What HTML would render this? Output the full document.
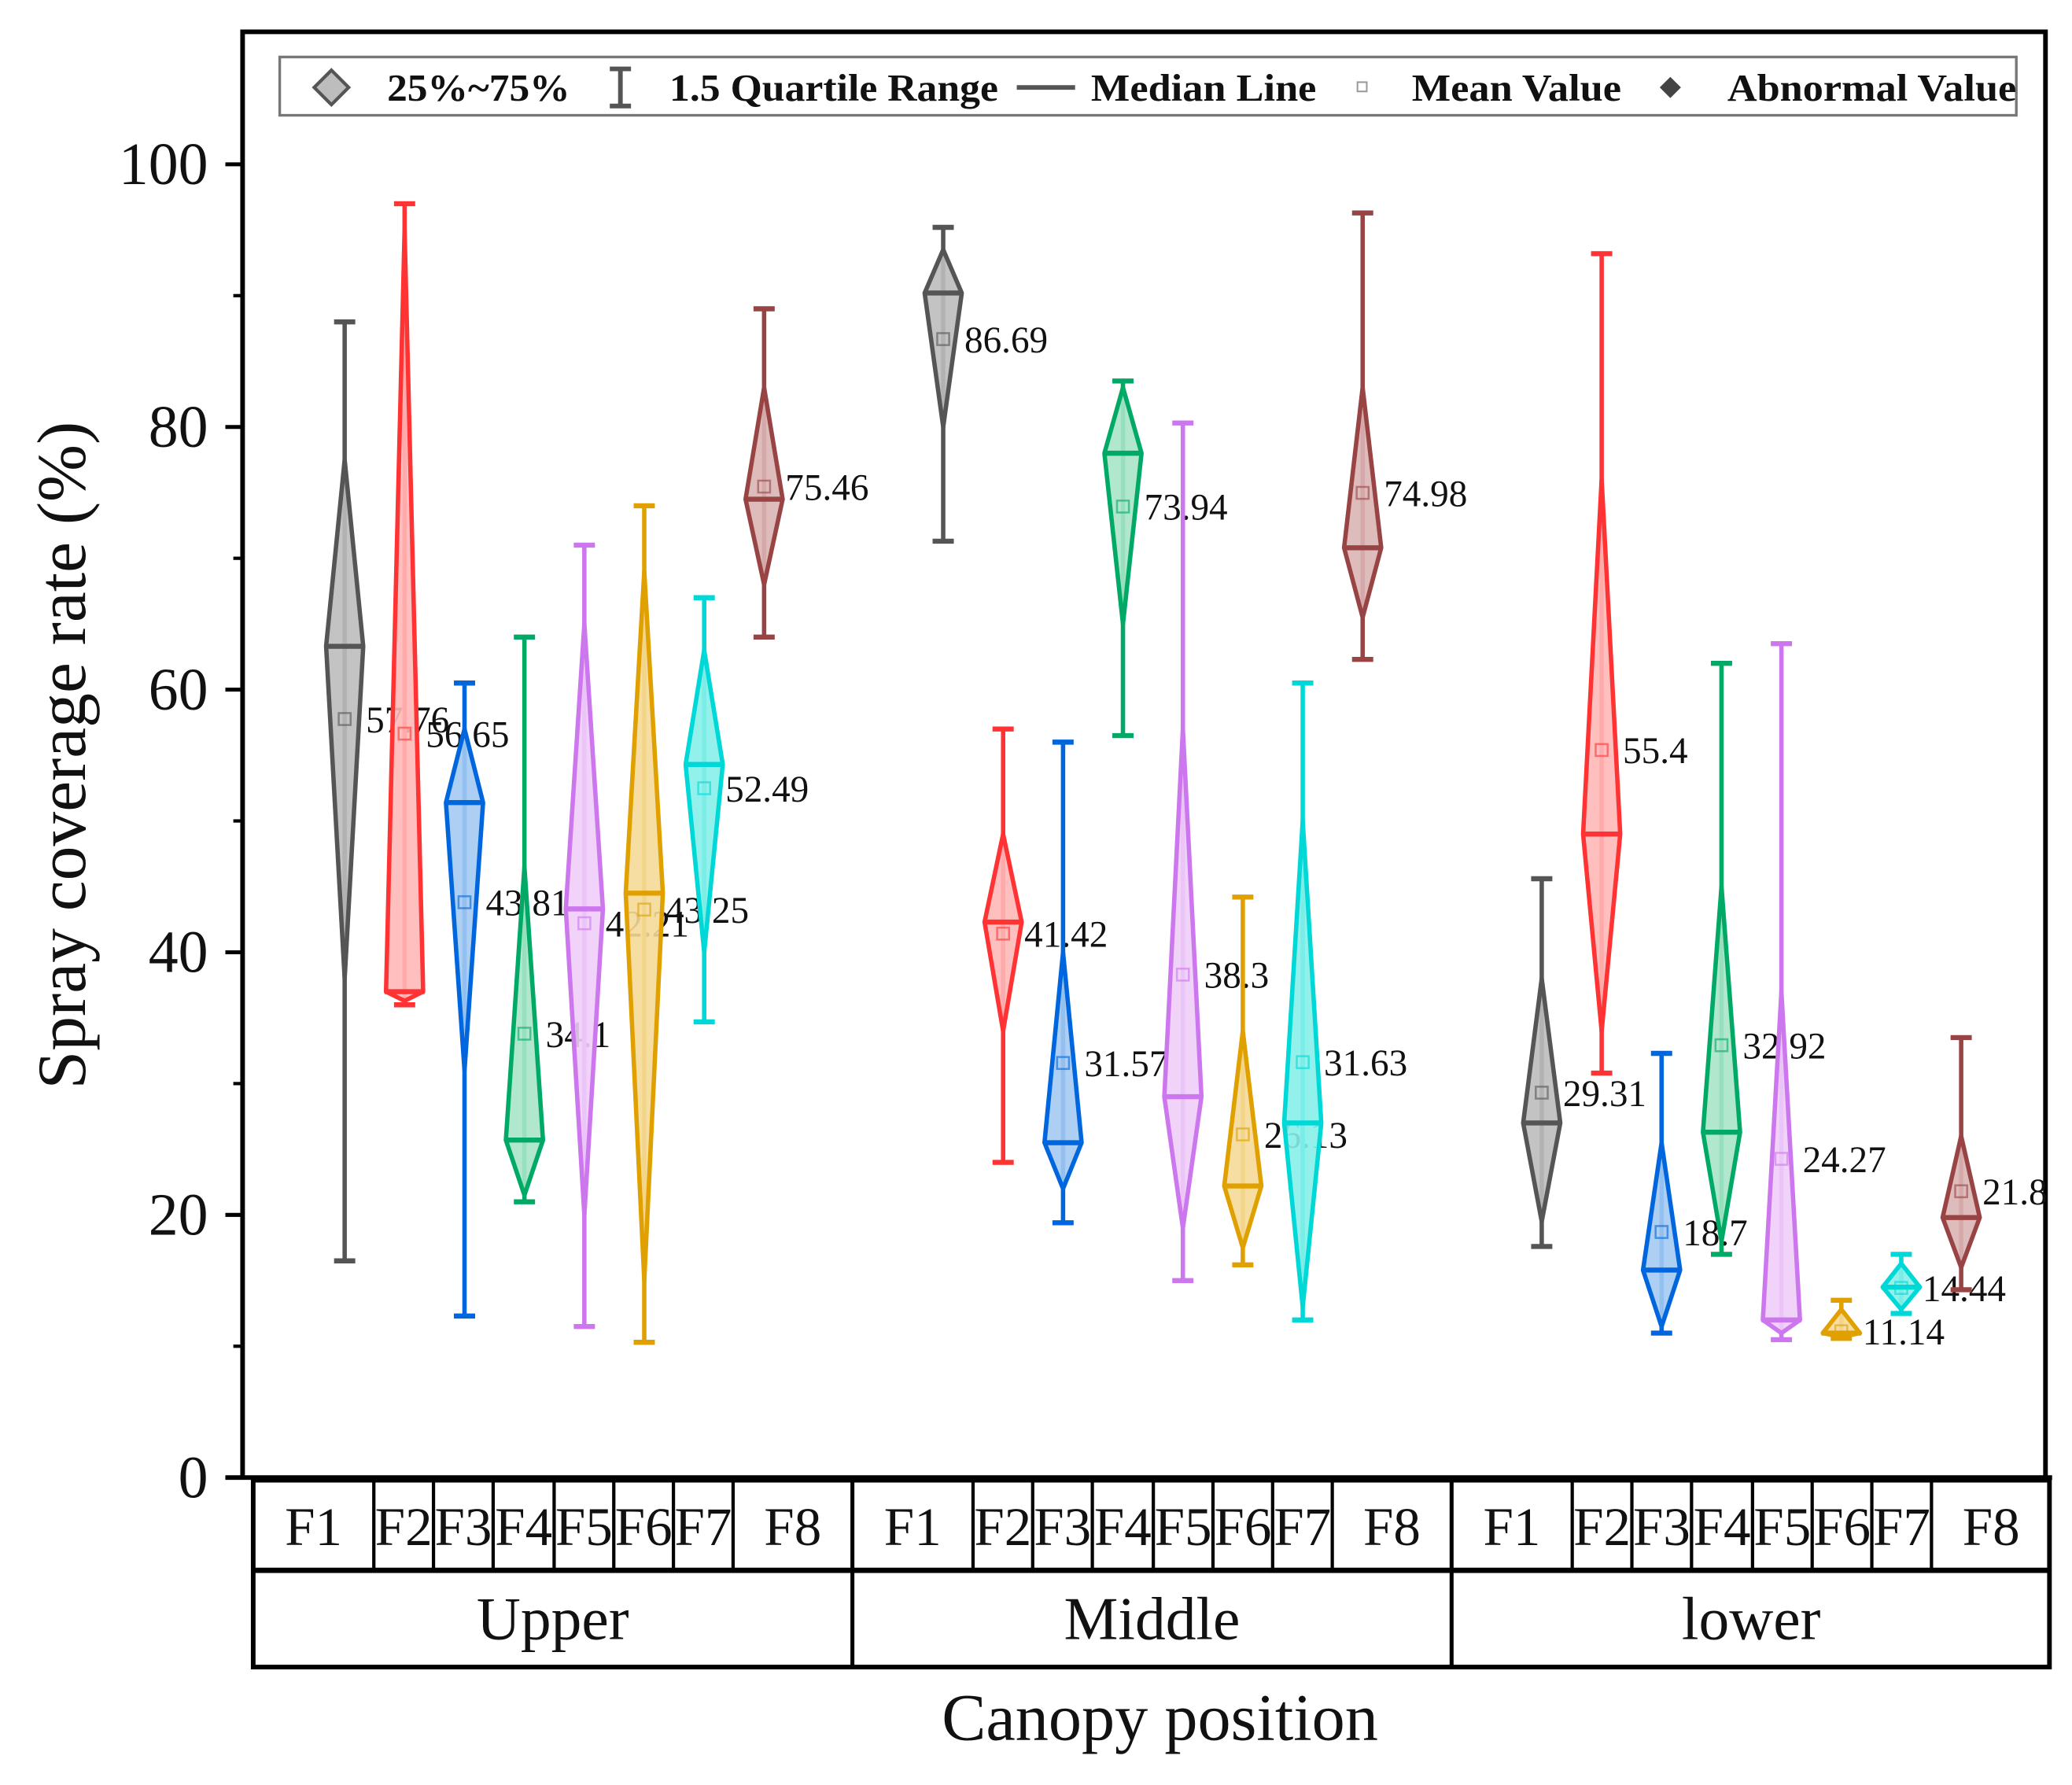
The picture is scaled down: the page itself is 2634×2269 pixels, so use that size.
<!DOCTYPE html>
<html><head><meta charset="utf-8"><style>
html,body{margin:0;padding:0;background:#fff;}
svg{display:block;}
text{font-family:"Liberation Serif",serif;fill:#111;}
</style></head><body>
<svg id="chart" xmlns="http://www.w3.org/2000/svg" width="2634" height="2269" viewBox="0 0 1563 1347" preserveAspectRatio="none">
<rect x="0" y="0" width="1563" height="1347" fill="#fff"/>
<g id="plot"></g>
</svg>
<script>
const groups = ["Upper","Middle","lower"];
const factors = ["F1","F2","F3","F4","F5","F6","F7","F8"];
const whiskerLo = [16.5,36,12.3,21,11.5,10.3,34.7,64, 71.3,24,19.4,56.5,15,16.2,12,62.3, 17.6,30.8,11,17,10.5,10.6,12.5,14.3];
const whiskerHi = [88,97,60.5,64,71,74,67,89, 95.2,57,56,83.5,80.3,44.2,60.5,96.3, 45.6,93.2,32.3,62,63.5,13.5,17,33.5];
const q1 = [38,36.3,31,21.5,20,15,40,68, 80,34,22,65,19,17.5,13,65.5, 19.5,34,11.5,18,11,10.7,12.8,16];
const q3 = [77.5,95,57,46.5,65,69,63,83, 93.5,49,40,83,57,34,50,83, 38,76,25.5,45,37,12.8,16.3,26];
const median = [63.3,37,51.4,25.7,43.3,44.5,54.3,74.5, 90.2,42.3,25.5,78,29,22.2,27,70.8, 27,49,15.8,26.3,12,11,14.5,19.8];
const meanVals = [57.76,56.65,43.81,33.8,42.21,43.25,52.49,75.46, 86.69,41.42,31.57,73.94,38.3,26.13,31.63,74.98, 29.31,55.4,18.7,32.92,24.27,11.14,14.44,21.8];
const meanLabels = ["57.76","56.65","43.81","34.1","42.21","43.25","52.49","75.46","86.69","41.42","31.57","73.94","38.3","26.13","31.63","74.98","29.31","55.4","18.7","32.92","24.27","11.14","14.44","21.8"];
const yTicks = [0,20,40,60,80,100];
const yMinor = [10,30,50,70,90];

const strokeC = ["#555555","#ff3333","#0066dd","#00aa66","#cc77ee","#e0a000","#00d8d8","#994444"];
const fillC = ["#bdbdbd","#ffb8b8","#a4caf2","#a8e4c8","#f0cdf8","#f5da98","#86f0e8","#dbb5b5"];

const NS = "http://www.w3.org/2000/svg";
const plot = document.getElementById("plot");
function mk(tag, attrs, parent){ const e=document.createElementNS(NS,tag); for(const k in attrs) e.setAttribute(k,attrs[k]); (parent||plot).appendChild(e); return e; }
const yS = v => 1115 - v*9.91;
const xS = (g,i) => 260 + g*451.5 + i*45.2;

let e;
e = mk("path",{d:"M183,1115 L183,24 L1543,24 L1543,1115",fill:"none",stroke:"#000","stroke-width":3.5});


e = mk("line",{x1:170,y1:1115,x2:1548,y2:1115,stroke:"#000","stroke-width":3.5});



yTicks.forEach(v=>{
  const y=yS(v);
  let t=mk("line",{x1:170,y1:y,x2:183,y2:y,stroke:"#000","stroke-width":3});
  
  
  let l=mk("text",{x:157,y:y+15,"text-anchor":"end","font-size":45});
  l.textContent=v;
  
  
});
yMinor.forEach(v=>{
  const y=yS(v);
  let t=mk("line",{x1:176,y1:y,x2:183,y2:y,stroke:"#000","stroke-width":2.5});
  
  
});
e=mk("text",{x:0,y:0,"text-anchor":"middle","font-size":52,transform:"translate(64,570) rotate(-90)"});
e.textContent="Spray coverage rate (%)";



const bounds=[0,91,136,181,227,272,317,362,452];
e=mk("rect",{x:191,y:1117,width:1355,height:141,fill:"none",stroke:"#000","stroke-width":3.5});


e=mk("line",{x1:191,y1:1185,x2:1546,y2:1185,stroke:"#000","stroke-width":4});


groups.forEach((gName,g)=>{
  const gx=191+g*452;
  for(let i=1;i<8;i++){
    let l=mk("line",{x1:gx+bounds[i],y1:1117,x2:gx+bounds[i],y2:1185,stroke:"#000","stroke-width":2.5});
    
    
  }
  if(g>0){
    let l=mk("line",{x1:gx,y1:1117,x2:gx,y2:1258,stroke:"#000","stroke-width":3});
    
    
  }
  factors.forEach((f,i)=>{
    let t=mk("text",{x:gx+(bounds[i]+bounds[i+1])/2,y:1166,"text-anchor":"middle","font-size":41});
    t.textContent=f;
    
    
  });
  let t=mk("text",{x:gx+226,y:1237,"text-anchor":"middle","font-size":46});
  t.textContent=gName;
  
  
});
e=mk("text",{x:875,y:1313,"text-anchor":"middle","font-size":50});
e.textContent="Canopy position";



for(let k=0;k<24;k++){
  const g=Math.floor(k/8), i=k%8, cx=xS(g,i);
  const sc=strokeC[i], fc=fillC[i], w=14;
  const grp=mk("g",{});
  
  
  let l=mk("line",{x1:cx,y1:yS(whiskerLo[k]),x2:cx,y2:yS(whiskerHi[k]),stroke:sc,"stroke-width":3.3},grp);
  
  
  [whiskerLo[k],whiskerHi[k]].forEach(v=>{
    let c=mk("line",{x1:cx-8,y1:yS(v),x2:cx+8,y2:yS(v),stroke:sc,"stroke-width":3.8},grp);
    
    
  });
  const yt=yS(q3[k]), yb=yS(q1[k]), ym=yS(median[k]);
  let p=mk("polygon",{points:`${cx},${yt} ${cx+w},${ym} ${cx},${yb} ${cx-w},${ym}`,fill:fc,"fill-opacity":0.9,stroke:sc,"stroke-width":3.3,"stroke-linejoin":"round"},grp);
  
  
  let m=mk("line",{x1:cx-w-1,y1:ym,x2:cx+w+1,y2:ym,stroke:sc,"stroke-width":3.8},grp);
  
  
  const yMean=yS(meanVals[k]);
  let s=mk("rect",{x:cx-4.5,y:yMean-4.5,width:9,height:9,fill:"none",stroke:sc,"stroke-opacity":0.6,"stroke-width":1.5},grp);
  
  
  let t=mk("text",{x:cx+16,y:yMean+10,"font-size":28},grp);
  t.textContent=meanLabels[k];
  
  
}

const lg=mk("g",{});


e=mk("rect",{x:211,y:43,width:1310,height:44,fill:"#fff",stroke:"#777","stroke-width":2},lg);


e=mk("polygon",{points:"250,53 263,66 250,79 237,66",fill:"#bdbdbd",stroke:"#555","stroke-width":2.5},lg);


e=mk("path",{d:"M460,52 L476,52 M468,52 L468,80 M460,80 L476,80",stroke:"#555","stroke-width":3.5,fill:"none"},lg);


e=mk("line",{x1:767,y1:66,x2:811,y2:66,stroke:"#555","stroke-width":3.5},lg);


e=mk("rect",{x:1024,y:62,width:7,height:7,fill:"none",stroke:"#999","stroke-width":1.2},lg);


e=mk("polygon",{points:"1260,58 1268,66 1260,74 1252,66",fill:"#444"},lg);


[["25%~75%",292,138],["1.5 Quartile Range",505,248],["Median Line",823,170],["Mean Value",1065,158],["Abnormal Value",1303,218]].forEach(a=>{
  let t=mk("text",{x:a[1],y:76,"font-size":29,"font-weight":"bold",textLength:a[2],lengthAdjust:"spacingAndGlyphs"},lg);
  t.textContent=a[0];
  
  
});
</script>
</body></html>
